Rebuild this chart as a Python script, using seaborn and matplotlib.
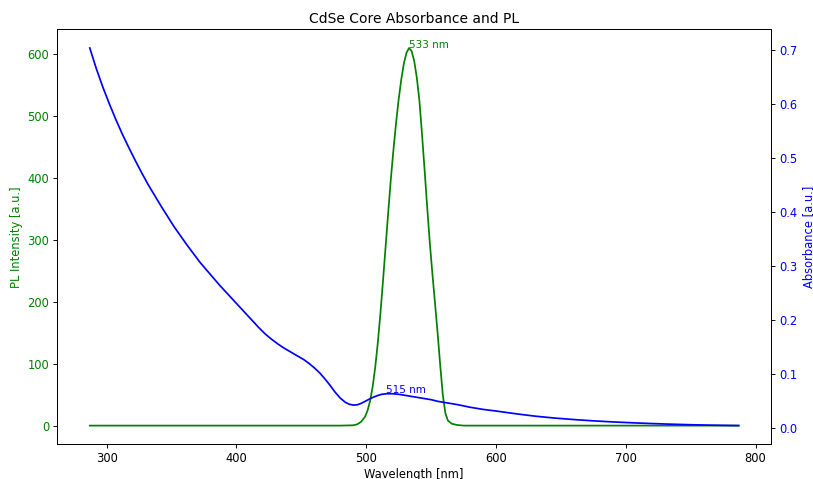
import matplotlib
matplotlib.use("Agg")
import matplotlib.pyplot as plt
import seaborn as sns
import pandas as pd

# Absorbance spectrum (wavelength nm, absorbance a.u.)
abs_wavelength = [287, 292, 297, 302, 307, 312, 317, 322, 327, 332, 337, 342, 347,
                  352, 357, 362, 367, 372, 377, 382, 387, 392, 397, 402, 407, 412,
                  417, 422, 427, 432, 437, 442, 447, 452, 456, 460, 464, 468, 472,
                  476, 480, 484, 487, 490, 493, 496, 500, 504, 508, 512, 516, 520,
                  525, 530, 535, 540, 545, 550, 555, 560, 570, 580, 590, 600, 615,
                  630, 645, 660, 675, 690, 705, 720, 735, 750, 765, 787]
absorbance = [0.703, 0.665, 0.631, 0.600, 0.571, 0.544, 0.519, 0.495, 0.472, 0.450,
              0.430, 0.410, 0.391, 0.372, 0.355, 0.338, 0.322, 0.306, 0.292, 0.278,
              0.264, 0.251, 0.238, 0.225, 0.212, 0.199, 0.186, 0.174, 0.164, 0.155,
              0.147, 0.140, 0.133, 0.126, 0.119, 0.111, 0.102, 0.091, 0.079, 0.066,
              0.055, 0.047, 0.0435, 0.042, 0.0425, 0.045, 0.050, 0.055, 0.059, 0.062,
              0.063, 0.063, 0.062, 0.060, 0.058, 0.056, 0.054, 0.052, 0.049, 0.047,
              0.043, 0.038, 0.034, 0.031, 0.026, 0.0215, 0.018, 0.0152, 0.0128,
              0.0108, 0.0092, 0.0078, 0.0066, 0.0056, 0.0048, 0.004]

# PL spectrum (wavelength nm, intensity a.u.)
pl_wavelength = [287, 400, 480, 490, 493, 496, 499, 501, 503, 505, 507, 509, 511,
                 513, 515, 517, 519, 521, 523, 525, 527, 529, 531, 533, 535, 537,
                 539, 541, 543, 545, 547, 549, 551, 553, 555, 557, 559, 561, 563,
                 566, 570, 575, 650, 787]
pl_intensity = [0, 0, 0, 0.5, 2, 6, 14, 24, 40, 63, 95, 135, 182,
                235, 290, 345, 398, 445, 488, 526, 558, 584, 601, 609, 604, 588,
                561, 524, 470, 412, 352, 295, 245, 198, 150, 98, 50, 20, 8,
                3, 1, 0, 0, 0]

abs_peak_label = "515 nm"
abs_peak = (515, 0.064)
pl_peak_label = "533 nm"
pl_peak = (533, 609)

title = "CdSe Core Absorbance and PL"
xlabel = "Wavelength [nm]"
ylabel_left = "PL Intensity [a.u.]"
ylabel_right = "Absorbance [a.u.]"

df_abs = pd.DataFrame({"wl": abs_wavelength, "a": absorbance})
df_pl = pd.DataFrame({"wl": pl_wavelength, "p": pl_intensity})

DPI = 83
fig, ax = plt.subplots(figsize=(813.4 / DPI, 479.4 / DPI), dpi=DPI)
fig.subplots_adjust(left=0.0705, right=0.948, bottom=0.072, top=0.9384)

sns.lineplot(data=df_pl, x="wl", y="p", ax=ax, color="green", linewidth=1.5)
ax.set_xlabel(xlabel, labelpad=2.5)
ax.set_ylabel(ylabel_left, color="green")
ax.tick_params(axis="y", labelcolor="green")
ax.tick_params(axis="x", pad=2.8)
ax.text(pl_peak[0], pl_peak[1], pl_peak_label, color="green", fontsize=9)
ax.set_title(title)

ax2 = ax.twinx()
sns.lineplot(data=df_abs, x="wl", y="a", ax=ax2, color="blue", linewidth=1.5)
ax2.set_ylabel(ylabel_right, color="blue")
ax2.tick_params(axis="y", labelcolor="blue")
ax2.text(abs_peak[0], abs_peak[1] + 0.002, abs_peak_label, color="blue", fontsize=9)
ax2.set_xlabel(xlabel, labelpad=2.5)

fig.savefig("out.png", dpi=DPI)
